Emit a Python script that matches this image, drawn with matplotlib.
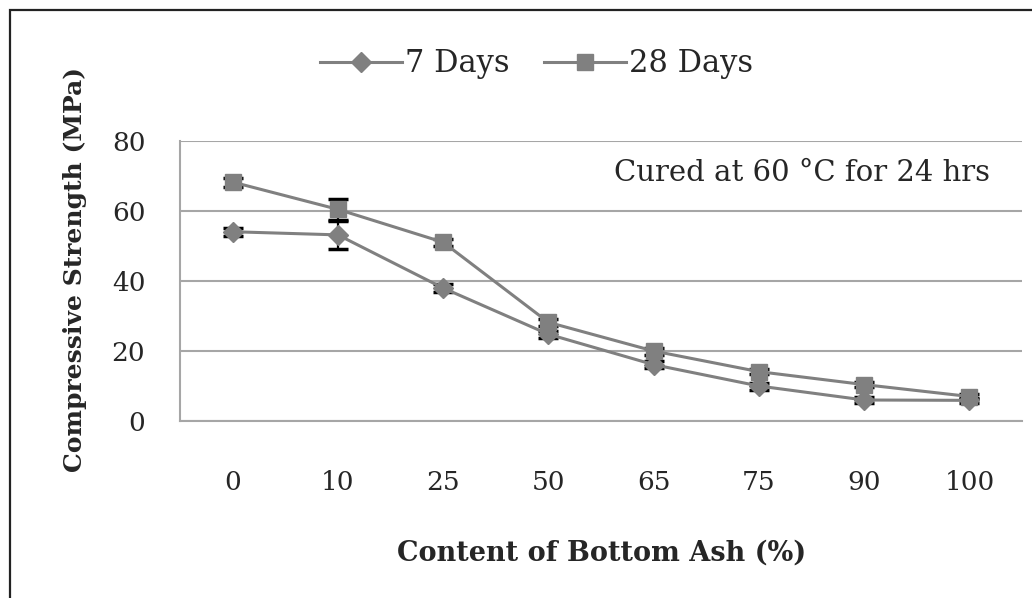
import numpy as np
import matplotlib.pyplot as plt
from matplotlib.patches import Rectangle

plt.rcParams['font.family'] = ['DejaVu Serif']

# bottom ash content (%) and compressive strength (MPa)
ash_content = ['0', '10', '25', '50', '65', '75', '90', '100']
strength_7d = [54.1, 53.2, 38.0, 24.8, 16.1, 10.0, 6.0, 5.9]
strength_28d = [68.3, 60.5, 51.1, 28.2, 20.0, 14.1, 10.4, 7.0]
err_7d = [1.2, 4.0, 1.2, 1.0, 1.0, 1.0, 0.8, 0.8]
err_28d = [1.3, 3.0, 1.0, 1.0, 1.0, 0.8, 0.8, 0.8]

fig = plt.figure(figsize=(10.32, 5.98), dpi=100)
ax = fig.add_axes([0.1744, 0.296, 0.816, 0.468])

x = np.arange(len(ash_content))
grey = '#808080'
txt = '#262626'

ax.errorbar(x, strength_7d, yerr=err_7d, color=grey, lw=2.2, marker='D',
            ms=10, mfc=grey, mec=grey, ecolor='black', elinewidth=1.6,
            capsize=7.5, capthick=2.5, label='7 Days', zorder=3)
ax.errorbar(x, strength_28d, yerr=err_28d, color=grey, lw=2.2, marker='s',
            ms=11.5, mfc=grey, mec=grey, ecolor='black', elinewidth=1.6,
            capsize=7.5, capthick=2.5, label='28 Days', zorder=3)

ax.set_xlim(-0.5, len(ash_content) - 0.5)
ax.set_ylim(0, 80)
ax.set_yticks([0, 20, 40, 60, 80])
ax.set_xticks(x)
ax.set_xticklabels(ash_content)
ax.tick_params(length=0, labelsize=19, colors=txt)
ax.tick_params(axis='x', pad=35)
ax.tick_params(axis='y', pad=25)
ax.yaxis.grid(True, color='#a6a6a6', lw=1.5)
ax.set_axisbelow(True)
for s in ['top', 'right']:
    ax.spines[s].set_visible(False)
for s in ['left', 'bottom']:
    ax.spines[s].set_color('#a6a6a6')
    ax.spines[s].set_linewidth(1.5)

ax.set_xlabel('Content of Bottom Ash (%)', fontsize=19.5, fontweight='bold',
              va='center', color=txt)
ax.xaxis.set_label_coords(0.501, -0.471)
ax.set_ylabel('Compressive Strength (MPa)', fontsize=18, fontweight='bold',
              va='center', color=txt)
ax.yaxis.set_label_coords(-0.125, 0.54)

ax.text(0.962, 0.885, 'Cured at 60 \u00b0C for 24 hrs', transform=ax.transAxes,
        ha='right', va='center', fontsize=21, color=txt)

handles, labels = ax.get_legend_handles_labels()
handles = [h[0] for h in handles]
fig.legend(handles, labels, loc='center', bbox_to_anchor=(0.52, 0.893),
           ncol=2, frameon=False, fontsize=22, handlelength=2.7,
           handletextpad=0.1, columnspacing=1.1, labelcolor=txt)

# outer frame
fig.patches.append(Rectangle((10 / 1032, -0.1), 1.2, 1.0 - 10 / 598 + 0.1,
                             transform=fig.transFigure, fill=False,
                             ec='#222222', lw=1.6))

fig.savefig('out.png', dpi=100)
